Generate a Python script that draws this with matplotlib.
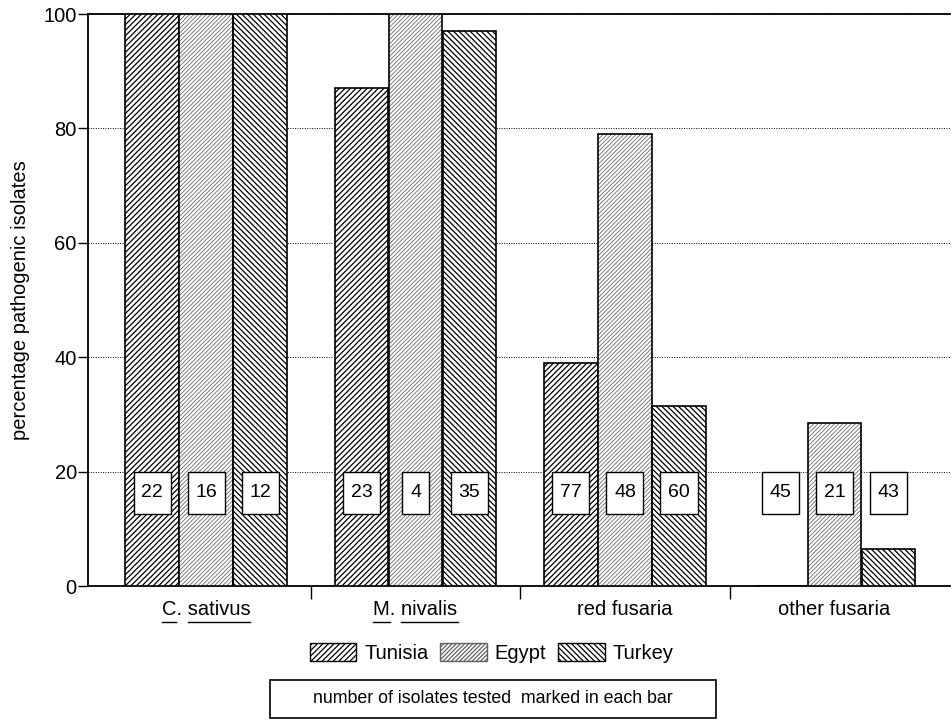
import numpy as np
import matplotlib
matplotlib.use("Agg")
import matplotlib.pyplot as plt
from matplotlib.patches import Patch, Rectangle

categories = ["C. sativus", "M. nivalis", "red fusaria", "other fusaria"]
countries = ["Tunisia", "Egypt", "Turkey"]
tunisia = [100, 87, 39, 0]
egypt = [100, 100, 79, 28.5]
turkey = [100, 97, 31.5, 6.5]
n_tunisia = [22, 23, 77, 45]
n_egypt = [16, 4, 48, 21]
n_turkey = [12, 35, 60, 43]

plt.rcParams['font.family'] = ['Liberation Sans', 'DejaVu Sans']
plt.rcParams['hatch.linewidth'] = 0.9

fig = plt.figure(figsize=(9.53, 7.22), dpi=100)
ax = fig.add_axes([0.0923, 0.188, 0.905, 0.7926])

x = np.arange(len(categories))
w = 0.255
off = 0.258
h_tun = '//////'
h_egy = '////////'
h_tur = '\\\\\\\\\\\\'

ax.bar(x - off, tunisia, w, facecolor='white', edgecolor='black', hatch=h_tun, linewidth=1.2, zorder=3)
with plt.rc_context({'hatch.linewidth': 0.6}):
    ax.bar(x, egypt, w, facecolor='white', edgecolor='#6a6a6a', hatch=h_egy, linewidth=0, zorder=3)
ax.bar(x, egypt, w, facecolor='none', edgecolor='black', linewidth=1.2, zorder=4)
ax.bar(x + off, turkey, w, facecolor='white', edgecolor='black', hatch=h_tur, linewidth=1.2, zorder=3)

# white count boxes
by = 16.3
bh = 7.3
for i in range(len(categories)):
    for dx, n in ((-off, n_tunisia[i]), (0, n_egypt[i]), (off, n_turkey[i])):
        bw = 0.177 if n >= 10 else 0.13
        ax.add_patch(Rectangle((x[i] + dx - bw / 2, by - bh / 2), bw, bh, facecolor='white',
                               edgecolor='black', linewidth=1, zorder=5))
        ax.text(x[i] + dx, by, str(n), ha='center', va='center', fontsize=14, zorder=6)

ax.set_xlim(-0.564, 3.554)
ax.set_ylim(0, 100)
ax.set_yticks([0, 20, 40, 60, 80, 100])
ax.tick_params(axis='y', labelsize=14.5, length=7, width=1, pad=1)
ax.yaxis.grid(True, linestyle=(0, (1, 1.5)), color='black', linewidth=0.7, zorder=0)
ax.set_axisbelow(True)

ax.set_xticks(x)
ax.set_xticklabels(categories, fontsize=14.5)
ax.tick_params(axis='x', which='major', length=0, pad=10)
ax.set_xticks([0.5, 1.5, 2.5], minor=True)
ax.tick_params(axis='x', which='minor', length=9, width=1)

ax.spines['right'].set_visible(False)
for s in ('left', 'bottom', 'top'):
    ax.spines[s].set_linewidth(1.3)

ax.set_ylabel("percentage pathogenic isolates", fontsize=14.5, labelpad=10)

# underline the genus names in the first two labels
fig.canvas.draw()
r = fig.canvas.get_renderer()
for lab in ax.get_xticklabels()[:2]:
    bb = lab.get_window_extent(r)
    txt = lab.get_text()
    head = txt.split('.')[0]
    t0 = fig.text(0, 0, head, fontsize=14.5)
    wh = t0.get_window_extent(r).width
    t1 = fig.text(0, 0, head + '. ', fontsize=14.5)
    w2 = t1.get_window_extent(r).width
    t0.remove(); t1.remove()
    yy = (bb.y0 - 3) / fig.bbox.height
    x0 = bb.x0 / fig.bbox.width
    fig.add_artist(plt.Line2D([x0, x0 + wh / fig.bbox.width], [yy, yy], color='black', lw=1))
    fig.add_artist(plt.Line2D([x0 + w2 / fig.bbox.width, bb.x1 / fig.bbox.width], [yy, yy], color='black', lw=1))

handles = [Patch(facecolor='white', edgecolor='black', hatch=h_tun, label=countries[0]),
           Patch(facecolor='white', edgecolor='#606060', hatch=h_egy, label=countries[1]),
           Patch(facecolor='white', edgecolor='black', hatch=h_tur, label=countries[2])]
fig.legend(handles=handles, loc='center', bbox_to_anchor=(0.516, 0.096), ncol=3, frameon=False,
           fontsize=14.5, handlelength=2.3, handleheight=1.0, columnspacing=0.6, handletextpad=0.4)

fig.add_artist(Rectangle((0.2833, 0.0055), 0.468, 0.0526, transform=fig.transFigure,
                         facecolor='white', edgecolor='black', linewidth=1.2))
fig.text(0.5175, 0.032, "number of isolates tested  marked in each bar", ha='center', va='center',
         fontsize=12.8)

fig.savefig("out.png", dpi=100)
